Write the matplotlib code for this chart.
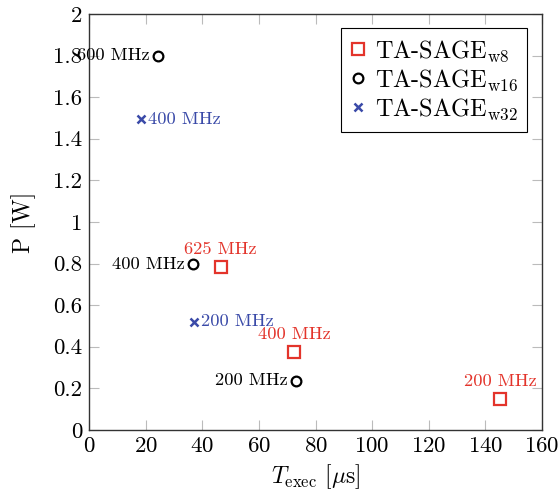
import matplotlib
matplotlib.use("Agg")
import matplotlib.pyplot as plt
from matplotlib.ticker import FuncFormatter, MultipleLocator

plt.rcParams['font.family'] = ['cmr10', 'DejaVu Serif']
plt.rcParams['mathtext.fontset'] = 'cm'
plt.rcParams['axes.formatter.use_mathtext'] = True

# data
w8_t = [46.5, 72.5, 145.3]
w8_p = [0.784, 0.376, 0.150]
w8_lbl = ['625 MHz', '400 MHz', '200 MHz']

w16_t = [24.2, 36.6, 73.1]
w16_p = [1.80, 0.797, 0.237]
w16_lbl = ['600 MHz', '400 MHz', '200 MHz']

w32_t = [18.4, 37.0]
w32_p = [1.495, 0.52]
w32_lbl = ['400 MHz', '200 MHz']

red = '#e3342b'
blue = '#3a4aa8'

fig = plt.figure(figsize=(5.6, 4.97), dpi=100)
ax = fig.add_axes([0.159, 0.135, 0.809, 0.837])

ax.plot(w8_t, w8_p, 's', ls='none', ms=8.5, mfc='none', mec=red, mew=1.6,
        label=r'TA-SAGE$_{\mathrm{w8}}$')
ax.plot(w16_t, w16_p, 'o', ls='none', ms=7, mfc='none', mec='black', mew=1.6,
        label=r'TA-SAGE$_{\mathrm{w16}}$')
ax.plot(w32_t, w32_p, 'x', ls='none', ms=5.5, mec=blue, mew=1.8,
        label=r'TA-SAGE$_{\mathrm{w32}}$')

for t, p, s in zip(w8_t, w8_p, w8_lbl):
    ax.annotate(s, (t, p), xytext=(0, 7), textcoords='offset points',
                ha='center', va='bottom', color=red, fontsize=13.3)
for t, p, s in zip(w16_t, w16_p, w16_lbl):
    ax.annotate(s, (t, p), xytext=(-6, 0), textcoords='offset points',
                ha='right', va='center', color='black', fontsize=13.3)
for t, p, s in zip(w32_t, w32_p, w32_lbl):
    ax.annotate(s, (t, p), xytext=(5, 0), textcoords='offset points',
                ha='left', va='center', color=blue, fontsize=13.3)

ax.set_xlim(0, 160)
ax.set_ylim(0, 2)
ax.xaxis.set_major_locator(MultipleLocator(20))
ax.yaxis.set_major_locator(MultipleLocator(0.2))
ax.yaxis.set_major_formatter(FuncFormatter(lambda v, pos: '%g' % round(v, 2)))
ax.tick_params(direction='in', top=True, right=True, length=7, width=0.8,
               color='#bbbbbb', labelsize=16.5, pad=5)
for sp in ax.spines.values():
    sp.set_linewidth(1.0)
    sp.set_color('#333333')

ax.set_xlabel(r'$T_{\mathrm{exec}}$ [$\mu$s]', fontsize=17, labelpad=4)
ax.set_ylabel('P [W]', fontsize=17, labelpad=12)

leg = ax.legend(loc='upper right', fontsize=17.5, handlelength=0.6,
                handletextpad=0.4, borderpad=0.4, labelspacing=0.15,
                fancybox=False, edgecolor='black', framealpha=1,
                borderaxespad=0.6)
leg.get_frame().set_linewidth(0.8)

fig.savefig('out.png', dpi=100)
